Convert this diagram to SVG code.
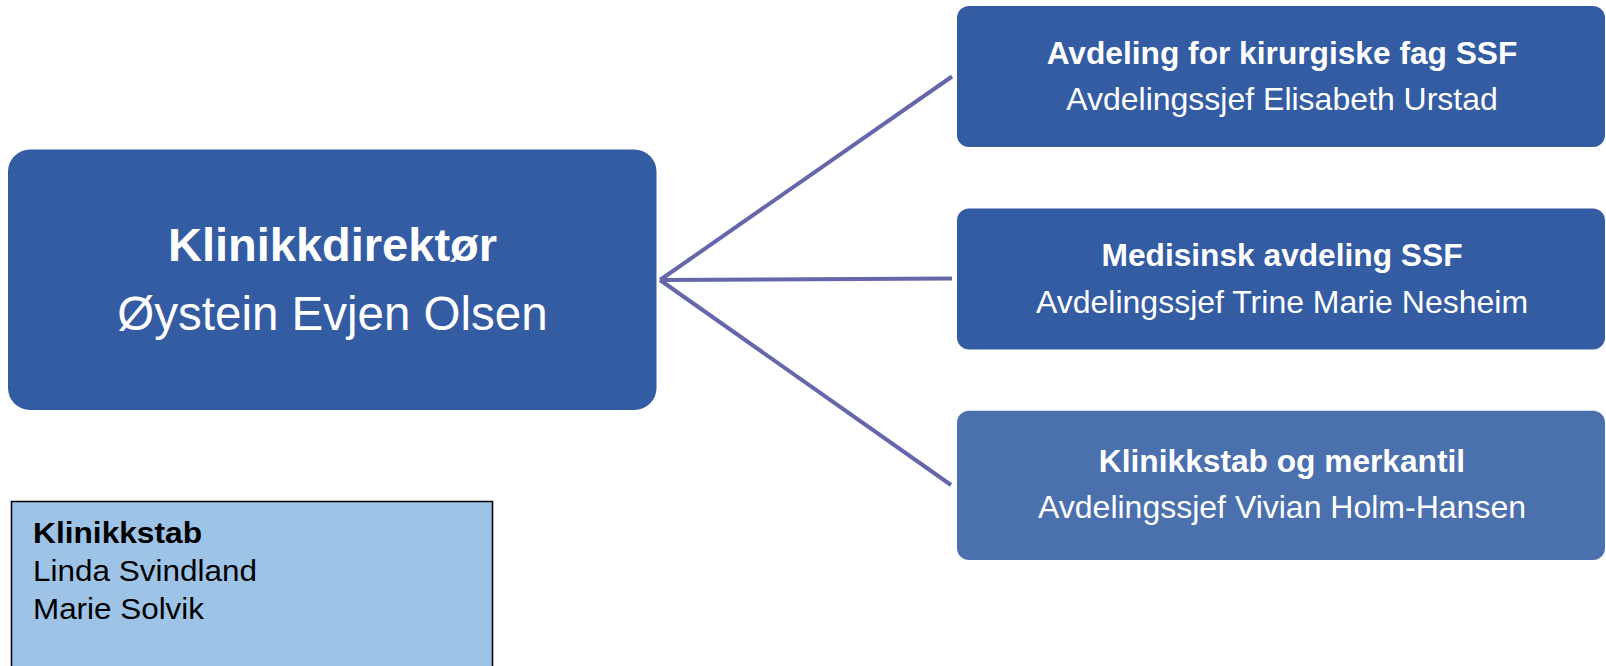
<svg xmlns="http://www.w3.org/2000/svg" width="1606" height="666" viewBox="0 0 1606 666">
<style>
.t{font-family:"Liberation Sans",Arial,sans-serif;fill:#fff;text-anchor:middle}
.b{font-weight:bold}
.dk{fill:#345ca3}
.lt{fill:#4b70ae}
.conn line{stroke:#6667ab;stroke-width:4;stroke-linecap:butt}
.s{font-family:"Liberation Sans",Arial,sans-serif;fill:#000;font-size:29px}
</style>
<rect width="1606" height="666" fill="#fff"/>
<g id="connectors" class="conn">
<line x1="660" y1="280" x2="952" y2="76.5"/>
<line x1="660" y1="280" x2="952" y2="278.5"/>
<line x1="660" y1="280" x2="951" y2="485"/>
</g>
<g id="klinikkdirektor">
<rect class="dk" x="8" y="149.5" width="648.5" height="260.5" rx="22"/>
<text class="t b" x="332.5" y="261" font-size="47">Klinikkdirektør</text>
<text class="t" x="332.5" y="330" font-size="47.5">Øystein Evjen Olsen</text>
</g>
<g id="kirurgiske">
<rect class="dk" x="957" y="6" width="648" height="141" rx="12"/>
<text class="t b" x="1282" y="64" font-size="31.7">Avdeling for kirurgiske fag SSF</text>
<text class="t" x="1282" y="110" font-size="32">Avdelingssjef Elisabeth Urstad</text>
</g>
<g id="medisinsk">
<rect class="dk" x="957" y="208.5" width="648" height="141" rx="12"/>
<text class="t b" x="1282" y="266" font-size="31.7">Medisinsk avdeling SSF</text>
<text class="t" x="1282" y="313" font-size="32">Avdelingssjef Trine Marie Nesheim</text>
</g>
<g id="klinikkstab-merkantil">
<rect class="lt" x="957" y="410.7" width="648" height="149.3" rx="12"/>
<text class="t b" x="1282" y="472" font-size="31.7">Klinikkstab og merkantil</text>
<text class="t" x="1282" y="517.7" font-size="32">Avdelingssjef Vivian Holm-Hansen</text>
</g>
<g id="klinikkstab">
<rect x="11.5" y="501.5" width="481" height="200" fill="#9dc3e6" stroke="#000" stroke-width="1.5"/>
<text class="s b" x="33" y="542.7" textLength="169" lengthAdjust="spacingAndGlyphs">Klinikkstab</text>
<text class="s" x="33" y="581" textLength="224" lengthAdjust="spacingAndGlyphs">Linda Svindland</text>
<text class="s" x="33" y="619" textLength="171" lengthAdjust="spacingAndGlyphs">Marie Solvik</text>
</g>
</svg>
